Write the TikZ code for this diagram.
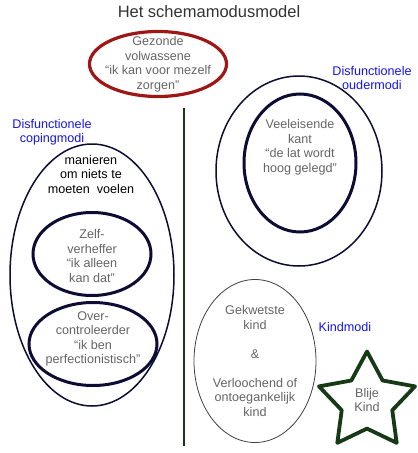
\documentclass[tikz,border=0pt]{standalone}
\usepackage{fontspec}
\setmainfont{Liberation Sans}
\usetikzlibrary{shapes.geometric, positioning}
\definecolor{navyline}{RGB}{12,12,52}
\definecolor{healthyred}{RGB}{158,22,22}
\definecolor{childgreen}{RGB}{22,58,22}
\definecolor{modegray}{RGB}{100,100,100}
\definecolor{groupblue}{RGB}{20,20,235}

\begin{document}
\begin{tikzpicture}[x=1pt, y=-1pt,
  every node/.style={font=\fontsize{12.6}{14.5}\selectfont, align=center, inner sep=0pt},
  modering/.style={draw=navyline, ellipse, line width=3pt},
  groupring/.style={draw=navyline, ellipse, line width=1.5pt},
  modetxt/.style={text=modegray},
  grouplbl/.style={text=groupblue}]
\useasboundingbox (0,0) rectangle (418,453);

\node[text=black!80, font=\fontsize{16.5}{19}\selectfont] (title) at (209,12) {Het schemamodusmodel};

% gezonde volwassene
\node[draw=healthyred, ellipse, line width=3.2pt, minimum width=137pt, minimum height=65pt] (healthy) at (158,64) {};
\node[modetxt] (healthytxt) at (healthy.center) {Gezonde\\volwassene\\“ik kan voor mezelf\\zorgen”};

% scheidingslijn
\coordinate (sepTop) at (184,108);
\coordinate (sepBot) at (184,446);
\draw[childgreen, line width=2.8pt] (sepTop) -- (sepBot);

% oudermodi
\node[grouplbl] (parentlbl) at (372,78) {Disfunctionele\\oudermodi};
\node[groupring, minimum width=166pt, minimum height=190pt] (parentgroup) at (299,171) {};
\node[modering, minimum width=112pt, minimum height=138pt] (demanding) at (300,163) {};
\node[modetxt] (demandingtxt) at (300,147) {Veeleisende\\kant\\“de lat wordt\\hoog gelegd”};

% copingmodi
\node[grouplbl] (copinglbl) at (52,132) {Disfunctionele\\copingmodi};
\node[groupring, minimum width=164pt, minimum height=262pt] (copinggroup) at (92,275) {};
\node (copingtxt) at (91,174) {manieren\\om niets te\\moeten\ \ voelen};
\node[modering, minimum width=118pt, minimum height=83pt] (selfagg) at (92,254) {};
\node[modetxt] (selfaggtxt) at (92,256) {Zelf-\\verheffer\\“ik alleen\\kan dat”};
\node[modering, minimum width=128pt, minimum height=83pt] (overctrl) at (93,344) {};
\node[modetxt] (overctrltxt) at (93,339) {Over-\\controleerder\\“ik ben\\perfectionistisch”};

% kindmodi
\node[draw=black!75, ellipse, line width=0.8pt, minimum width=122pt, minimum height=163pt] (childgroup) at (255,361) {};
\node[modetxt] (childtxt) at (childgroup.center) {Gekwetste\\kind\\[14.5pt]\&\\[14.5pt]Verloochend of\\ontoegankelijk\\kind};
\node[grouplbl] (childlbl) at (345,327) {Kindmodi};
\node[star, star points=5, star point ratio=1.9, draw=childgreen, line width=3.8pt, line join=round, minimum size=101pt] (happy) at (367,402) {};
\node[modetxt] (happytxt) at (367,400) {Blije\\Kind};
\end{tikzpicture}
\end{document}
